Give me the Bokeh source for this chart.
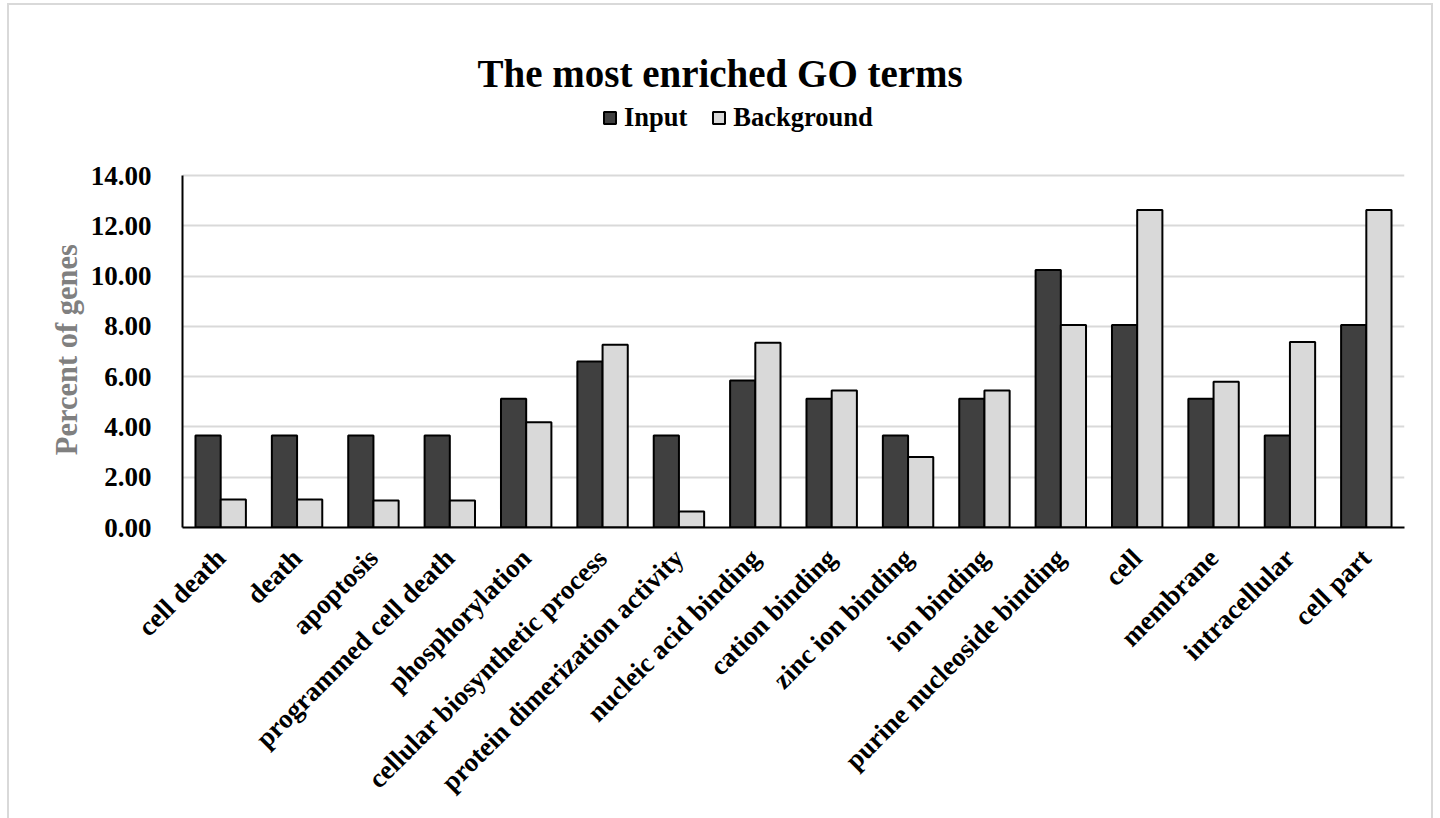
import math
from bokeh.plotting import figure
from bokeh.models import (ColumnDataSource, FactorRange, Range1d, FixedTicker,
                          PrintfTickFormatter, Legend, LegendItem)
from bokeh.transform import dodge
from bokeh.embed import file_html
from bokeh.resources import INLINE

categories = ["cell death", "death", "apoptosis", "programmed cell death",
              "phosphorylation", "cellular biosynthetic process",
              "protein dimerization activity", "nucleic acid binding",
              "cation binding", "zinc ion binding", "ion binding",
              "purine nucleoside binding", "cell", "membrane",
              "intracellular", "cell part"]
input_pct = [3.66, 3.66, 3.66, 3.66, 5.12, 6.60, 3.66, 5.85,
             5.12, 3.66, 5.12, 10.24, 8.05, 5.12, 3.66, 8.05]
background_pct = [1.11, 1.11, 1.07, 1.07, 4.19, 7.27, 0.64, 7.35,
                  5.45, 2.80, 5.45, 8.05, 12.63, 5.80, 7.38, 12.63]
y_ticks = [0, 2, 4, 6, 8, 10, 12, 14]

FONT = "Liberation Serif"

# frame extends above the 14.00 gridline to host the legend
AXIS_PX = 352          # pixels from 0 to 14
FRAME_H = 432
y_top = y_ticks[-1] * FRAME_H / AXIS_PX

src = ColumnDataSource(dict(cat=categories, inp=input_pct, bg=background_pct))

p = figure(x_range=FactorRange(*categories, range_padding=0),
           y_range=Range1d(0, y_top),
           frame_width=1222, frame_height=FRAME_H,
           min_border_left=173, min_border_right=27,
           min_border_top=90, min_border_bottom=292,
           output_backend="svg", toolbar_location=None,
           title="The most enriched GO terms")
p.styles = {"border": "2px solid #d9d9d9", "margin-left": "7px",
            "margin-top": "3px"}

p.title.text_font = FONT
p.title.text_font_size = "39px"
p.title.text_font_style = "bold"
p.title.text_color = "black"
p.title.align = "left"
p.title.offset = 295
p.title.standoff = 2

r1 = p.vbar(x=dodge("cat", -0.165, range=p.x_range), top="inp", width=0.33,
            source=src, fill_color="#404040", line_color="black", line_width=2)
r2 = p.vbar(x=dodge("cat", 0.165, range=p.x_range), top="bg", width=0.33,
            source=src, fill_color="#d9d9d9", line_color="black", line_width=2)

legend = Legend(items=[LegendItem(label="Input", renderers=[r1]),
                       LegendItem(label="Background", renderers=[r2])],
                orientation="horizontal", location=(420, 394),
                padding=0, margin=0, spacing=24, label_standoff=7,
                glyph_width=15, glyph_height=15,
                border_line_color=None, background_fill_alpha=0)
legend.label_text_font = FONT
legend.label_text_font_size = "26.5px"
legend.label_text_font_style = "bold"
legend.label_text_color = "black"
p.add_layout(legend, "center")

p.outline_line_color = None
p.xgrid.grid_line_color = None
p.ygrid.grid_line_color = "#d9d9d9"
p.ygrid.grid_line_width = 2
p.ygrid.ticker = FixedTicker(ticks=y_ticks)

p.yaxis.ticker = FixedTicker(ticks=y_ticks)
p.yaxis.bounds = (y_ticks[0], y_ticks[-1])
p.yaxis.formatter = PrintfTickFormatter(format="%.2f")
# trailing no-break spaces keep the label centred on the 0-14 span
p.yaxis.axis_label = "Percent of genes" + "\u00a0" * 10
p.yaxis.axis_label_text_font = FONT
p.yaxis.axis_label_text_font_size = "30.5px"
p.yaxis.axis_label_text_font_style = "bold"
p.yaxis.axis_label_text_color = "#808080"
p.yaxis.axis_label_standoff = 4
p.yaxis.major_label_standoff = 25

for ax in (p.xaxis[0], p.yaxis[0]):
    ax.axis_line_color = "black"
    ax.axis_line_width = 2
    ax.major_tick_line_color = None
    ax.minor_tick_line_color = None
    ax.major_label_text_font = FONT
    ax.major_label_text_font_size = "27px"
    ax.major_label_text_font_style = "bold"
    ax.major_label_text_color = "black"

p.xaxis.major_label_orientation = math.pi / 4
p.xaxis.major_label_standoff = 20

open("out.html", "w").write(file_html(p, INLINE))
